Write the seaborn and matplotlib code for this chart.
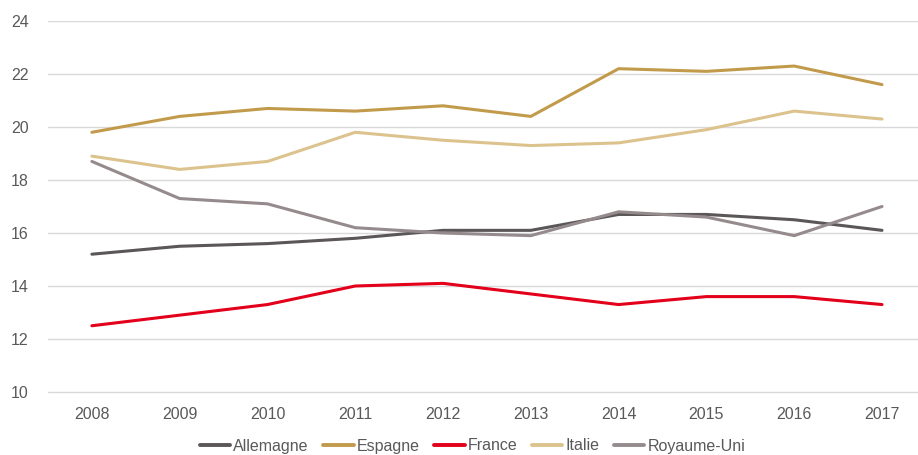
import matplotlib
matplotlib.use("Agg")
import matplotlib.pyplot as plt
import seaborn as sns
import pandas as pd
from matplotlib.lines import Line2D

years = ["2008", "2009", "2010", "2011", "2012", "2013", "2014", "2015", "2016", "2017"]
allemagne = [15.2, 15.5, 15.6, 15.8, 16.1, 16.1, 16.7, 16.7, 16.5, 16.1]
espagne = [19.8, 20.4, 20.7, 20.6, 20.8, 20.4, 22.2, 22.1, 22.3, 21.6]
france = [12.5, 12.9, 13.3, 14.0, 14.1, 13.7, 13.3, 13.6, 13.6, 13.3]
italie = [18.9, 18.4, 18.7, 19.8, 19.5, 19.3, 19.4, 19.9, 20.6, 20.3]
royaume_uni = [18.7, 17.3, 17.1, 16.2, 16.0, 15.9, 16.8, 16.6, 15.9, 17.0]
yticks = [10, 12, 14, 16, 18, 20, 22, 24]

series = {
    "Allemagne": allemagne,
    "Espagne": espagne,
    "France": france,
    "Italie": italie,
    "Royaume-Uni": royaume_uni,
}
colors = {
    "Allemagne": "#5b5657",
    "Espagne": "#c19b4b",
    "France": "#e3001b",
    "Italie": "#dcc38d",
    "Royaume-Uni": "#958b8d",
}

rows = []
for name, vals in series.items():
    for i, (y, v) in enumerate(zip(years, vals)):
        rows.append({"idx": i, "year": y, "value": v, "pays": name})
df = pd.DataFrame(rows)

sns.set_theme(style="white")
plt.rcParams["font.family"] = ["Liberation Sans", "DejaVu Sans"]

fig = plt.figure(figsize=(9.18, 4.55), dpi=100)
px_per_unit = (392 - 21) / 14
bottom_px = 392 + 0.1 * px_per_unit
ax = fig.add_axes([48 / 918, 1 - bottom_px / 455, 870 / 918, (bottom_px - 21) / 455])

sns.lineplot(data=df, x="idx", y="value", hue="pays", palette=colors,
             linewidth=2.2, ax=ax, legend=False, sort=False)

ax.set_xlim(-0.5, 9.41)
ax.set_ylim(9.9, 24)
ax.set_yticks(yticks)
ax.set_yticklabels([str(t) for t in yticks])
ax.set_xticks(range(len(years)))
ax.set_xticklabels(years)
ax.set_xlabel("")
ax.set_ylabel("")
ax.yaxis.grid(True, color="#d9d9d9", linewidth=1)
ax.set_axisbelow(True)
for s in ax.spines.values():
    s.set_visible(False)
ax.tick_params(axis="both", length=0, labelsize=11.5, labelcolor="#595959")
ax.tick_params(axis="x", pad=9)
ax.tick_params(axis="y", pad=14)

handles = [Line2D([0], [0], color=colors[n], linewidth=2.8) for n in series]
fig.legend(handles, list(series.keys()), loc="center", ncol=5,
           frameon=False, bbox_to_anchor=(472.5 / 918, 1 - 446 / 455), fontsize=11.5,
           handlelength=1.9, handletextpad=0.2, columnspacing=0.9,
           labelcolor="#595959", borderpad=0)

fig.savefig("out.png", dpi=100)
